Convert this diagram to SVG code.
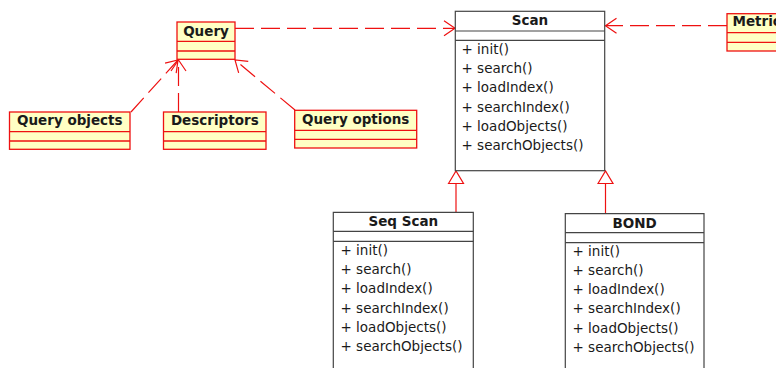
<svg xmlns="http://www.w3.org/2000/svg" width="776" height="368" viewBox="0 0 776 368">
  <style>
    text { font-family: "DejaVu Sans", "Liberation Sans", sans-serif; font-size: 13.5px; fill: #1a1a1a; }
    .hd { font-weight: bold; text-anchor: middle; }
    .cls { fill: #ffffc4; stroke: #ee1111; stroke-width: 1.3; }
    .box { fill: #ffffff; stroke: #444444; stroke-width: 1.2; }
    .sep { stroke: #444444; stroke-width: 1.2; }
    .rsep { stroke: #ee1111; stroke-width: 1.3; }
    .dep { fill: none; stroke: #ee1111; stroke-width: 1.2; stroke-dasharray: 19 7; }
    .gen { fill: none; stroke: #ee1111; stroke-width: 1.2; }
  </style>
  <defs>
    <marker id="open" markerUnits="userSpaceOnUse" viewBox="-13 -9 15 18" refX="0" refY="0" markerWidth="15" markerHeight="18" orient="auto" overflow="visible">
      <path d="M-11,-7.5 L0,0 L-11,7.5" fill="none" stroke="#ee1111" stroke-width="1.2"/>
    </marker>
    <marker id="tri" markerUnits="userSpaceOnUse" viewBox="-14 -9 16 18" refX="0" refY="0" markerWidth="16" markerHeight="18" orient="auto" overflow="visible">
      <path d="M-12.5,-7.5 L0,0 L-12.5,7.5 Z" fill="#ffffff" stroke="#ee1111" stroke-width="1.2"/>
    </marker>
  </defs>

  <!-- connectors -->
  <g id="connectors">
    <line class="dep" x1="235" y1="28.3" x2="455" y2="28.3" marker-end="url(#open)"/>
    <line class="dep" x1="727" y1="25.7" x2="605.5" y2="25.7" marker-end="url(#open)"/>
    <line class="dep" x1="131" y1="112" x2="178" y2="60" marker-end="url(#open)"/>
    <line class="dep" x1="178.5" y1="112" x2="178.5" y2="60" marker-end="url(#open)"/>
    <line class="dep" x1="295" y1="110" x2="235" y2="60" marker-end="url(#open)"/>
    <line class="gen" x1="456" y1="212.5" x2="456" y2="171" marker-end="url(#tri)"/>
    <line class="gen" x1="605.5" y1="214" x2="605.5" y2="171" marker-end="url(#tri)"/>
  </g>

  <!-- Query -->
  <g id="query">
    <rect class="cls" x="177" y="22" width="58" height="37.3"/>
    <line class="rsep" x1="177" y1="41.3" x2="235" y2="41.3"/>
    <line class="rsep" x1="177" y1="51" x2="235" y2="51"/>
    <text class="hd" x="206" y="36.2">Query</text>
  </g>

  <!-- Query objects -->
  <g id="query-objects">
    <rect class="cls" x="9.5" y="112" width="120.5" height="37.3"/>
    <line class="rsep" x1="9.5" y1="131.7" x2="130" y2="131.7"/>
    <line class="rsep" x1="9.5" y1="141" x2="130" y2="141"/>
    <text class="hd" x="69.8" y="124.8">Query objects</text>
  </g>

  <!-- Descriptors -->
  <g id="descriptors">
    <rect class="cls" x="163.5" y="112" width="102.5" height="37.3"/>
    <line class="rsep" x1="163.5" y1="131.7" x2="266" y2="131.7"/>
    <line class="rsep" x1="163.5" y1="141" x2="266" y2="141"/>
    <text class="hd" x="214.8" y="124.8">Descriptors</text>
  </g>

  <!-- Query options -->
  <g id="query-options">
    <rect class="cls" x="294.7" y="110.3" width="122" height="37.7"/>
    <line class="rsep" x1="294.7" y1="130.3" x2="416.7" y2="130.3"/>
    <line class="rsep" x1="294.7" y1="139.3" x2="416.7" y2="139.3"/>
    <text class="hd" x="355.7" y="123.6">Query options</text>
  </g>

  <!-- Metric (runs past the right edge) -->
  <g id="metric">
    <rect class="cls" x="727" y="13.7" width="60" height="37.3"/>
    <line class="rsep" x1="727" y1="32.7" x2="787" y2="32.7"/>
    <line class="rsep" x1="727" y1="42.3" x2="787" y2="42.3"/>
    <text x="732.5" y="26.4" font-weight="bold">Metric</text>
  </g>

  <!-- Scan -->
  <g id="scan">
    <rect class="box" x="455.3" y="11.3" width="149.4" height="159.4"/>
    <line class="sep" x1="455.3" y1="31" x2="604.7" y2="31"/>
    <line class="sep" x1="455.3" y1="40.3" x2="604.7" y2="40.3"/>
    <text class="hd" x="530" y="24.6">Scan</text>
    <text x="461.5" y="53.6">+ init()</text>
    <text x="461.5" y="72.9">+ search()</text>
    <text x="461.5" y="92.2">+ loadIndex()</text>
    <text x="461.5" y="111.5">+ searchIndex()</text>
    <text x="461.5" y="130.8">+ loadObjects()</text>
    <text x="461.5" y="150.1">+ searchObjects()</text>
  </g>

  <!-- Seq Scan -->
  <g id="seq-scan">
    <path class="box" d="M333.3,369 V212.3 H473.3 V369"/>
    <line class="sep" x1="333.3" y1="231.3" x2="473.3" y2="231.3"/>
    <line class="sep" x1="333.3" y1="241.3" x2="473.3" y2="241.3"/>
    <text class="hd" x="403.3" y="226.3">Seq Scan</text>
    <text x="340.5" y="255.2">+ init()</text>
    <text x="340.5" y="274.3">+ search()</text>
    <text x="340.5" y="293.4">+ loadIndex()</text>
    <text x="340.5" y="312.5">+ searchIndex()</text>
    <text x="340.5" y="331.6">+ loadObjects()</text>
    <text x="340.5" y="350.7">+ searchObjects()</text>
  </g>

  <!-- BOND -->
  <g id="bond">
    <path class="box" d="M565.3,369 V213.7 H704 V369"/>
    <line class="sep" x1="565.3" y1="232.7" x2="704" y2="232.7"/>
    <line class="sep" x1="565.3" y1="242.7" x2="704" y2="242.7"/>
    <text class="hd" x="634.7" y="227.8">BOND</text>
    <text x="572.5" y="255.5">+ init()</text>
    <text x="572.5" y="274.8">+ search()</text>
    <text x="572.5" y="294.1">+ loadIndex()</text>
    <text x="572.5" y="313.4">+ searchIndex()</text>
    <text x="572.5" y="332.7">+ loadObjects()</text>
    <text x="572.5" y="352">+ searchObjects()</text>
  </g>
</svg>
